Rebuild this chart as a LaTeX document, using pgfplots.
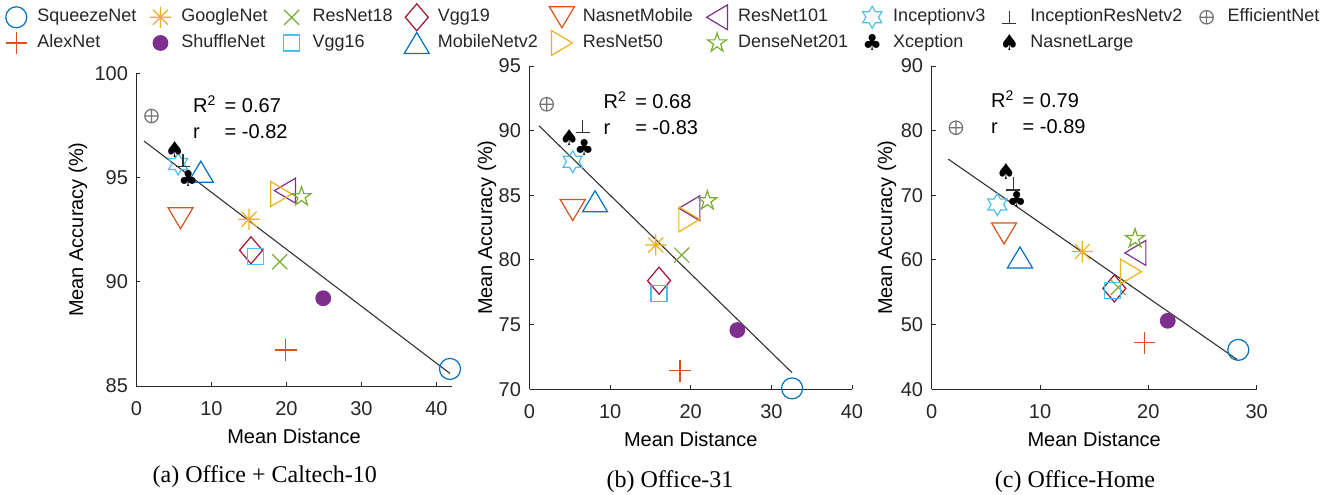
\documentclass[border=0pt]{standalone}
\usepackage{fontspec}
\setmainfont{Liberation Sans}
\newfontfamily\capfont{Liberation Serif}
\newfontfamily\symfont{DejaVu Sans}
\usepackage{pgfplots}
\pgfplotsset{compat=1.18}

\definecolor{mblue}{rgb}{0,0.447,0.741}
\definecolor{morange}{rgb}{0.85,0.325,0.098}
\definecolor{myellow}{rgb}{0.929,0.694,0.125}
\definecolor{mpurple}{rgb}{0.494,0.184,0.556}
\definecolor{mgreen}{rgb}{0.466,0.674,0.188}
\definecolor{mcyan}{rgb}{0.301,0.745,0.933}
\definecolor{mred}{rgb}{0.635,0.078,0.184}
\definecolor{axgray}{rgb}{0.15,0.15,0.15}
\definecolor{effgray}{rgb}{0.45,0.45,0.45}

% custom marks
\pgfdeclareplotmark{mast}{%
  \pgfpathmoveto{\pgfqpoint{-\pgfplotmarksize}{0pt}}\pgfpathlineto{\pgfqpoint{\pgfplotmarksize}{0pt}}%
  \pgfpathmoveto{\pgfqpoint{0pt}{-\pgfplotmarksize}}\pgfpathlineto{\pgfqpoint{0pt}{\pgfplotmarksize}}%
  \pgfpathmoveto{\pgfqpoint{-.707\pgfplotmarksize}{-.707\pgfplotmarksize}}\pgfpathlineto{\pgfqpoint{.707\pgfplotmarksize}{.707\pgfplotmarksize}}%
  \pgfpathmoveto{\pgfqpoint{-.707\pgfplotmarksize}{.707\pgfplotmarksize}}\pgfpathlineto{\pgfqpoint{.707\pgfplotmarksize}{-.707\pgfplotmarksize}}%
  \pgfusepathqstroke}
\pgfdeclareplotmark{mx}{%
  \pgfpathmoveto{\pgfqpoint{-\pgfplotmarksize}{-\pgfplotmarksize}}\pgfpathlineto{\pgfqpoint{\pgfplotmarksize}{\pgfplotmarksize}}%
  \pgfpathmoveto{\pgfqpoint{-\pgfplotmarksize}{\pgfplotmarksize}}\pgfpathlineto{\pgfqpoint{\pgfplotmarksize}{-\pgfplotmarksize}}%
  \pgfusepathqstroke}
\pgfdeclareplotmark{mdiam}{%
  \pgfpathmoveto{\pgfqpoint{0pt}{\pgfplotmarksize}}%
  \pgfpathlineto{\pgfqpoint{.85\pgfplotmarksize}{0pt}}%
  \pgfpathlineto{\pgfqpoint{0pt}{-\pgfplotmarksize}}%
  \pgfpathlineto{\pgfqpoint{-.85\pgfplotmarksize}{0pt}}%
  \pgfpathclose\pgfusepathqstroke}
\pgfdeclareplotmark{mtriup}{%
  \pgfpathmoveto{\pgfqpoint{0pt}{\pgfplotmarksize}}%
  \pgfpathlineto{\pgfqpoint{-1.19\pgfplotmarksize}{-\pgfplotmarksize}}%
  \pgfpathlineto{\pgfqpoint{1.19\pgfplotmarksize}{-\pgfplotmarksize}}%
  \pgfpathclose\pgfusepathqstroke}
\pgfdeclareplotmark{mtridown}{%
  \pgfpathmoveto{\pgfqpoint{0pt}{-\pgfplotmarksize}}%
  \pgfpathlineto{\pgfqpoint{-1.19\pgfplotmarksize}{\pgfplotmarksize}}%
  \pgfpathlineto{\pgfqpoint{1.19\pgfplotmarksize}{\pgfplotmarksize}}%
  \pgfpathclose\pgfusepathqstroke}
\pgfdeclareplotmark{mtriright}{%
  \pgfpathmoveto{\pgfqpoint{\pgfplotmarksize}{0pt}}%
  \pgfpathlineto{\pgfqpoint{-\pgfplotmarksize}{1.19\pgfplotmarksize}}%
  \pgfpathlineto{\pgfqpoint{-\pgfplotmarksize}{-1.19\pgfplotmarksize}}%
  \pgfpathclose\pgfusepathqstroke}
\pgfdeclareplotmark{mtrileft}{%
  \pgfpathmoveto{\pgfqpoint{-\pgfplotmarksize}{0pt}}%
  \pgfpathlineto{\pgfqpoint{\pgfplotmarksize}{1.19\pgfplotmarksize}}%
  \pgfpathlineto{\pgfqpoint{\pgfplotmarksize}{-1.19\pgfplotmarksize}}%
  \pgfpathclose\pgfusepathqstroke}
\pgfdeclareplotmark{mpenta}{%
  \pgfpathmoveto{\pgfqpointpolar{90}{\pgfplotmarksize}}%
  \pgfpathlineto{\pgfqpointpolar{126}{.382\pgfplotmarksize}}%
  \pgfpathlineto{\pgfqpointpolar{162}{\pgfplotmarksize}}%
  \pgfpathlineto{\pgfqpointpolar{198}{.382\pgfplotmarksize}}%
  \pgfpathlineto{\pgfqpointpolar{234}{\pgfplotmarksize}}%
  \pgfpathlineto{\pgfqpointpolar{270}{.382\pgfplotmarksize}}%
  \pgfpathlineto{\pgfqpointpolar{306}{\pgfplotmarksize}}%
  \pgfpathlineto{\pgfqpointpolar{342}{.382\pgfplotmarksize}}%
  \pgfpathlineto{\pgfqpointpolar{18}{\pgfplotmarksize}}%
  \pgfpathlineto{\pgfqpointpolar{54}{.382\pgfplotmarksize}}%
  \pgfpathclose\pgfusepathqstroke}
\pgfdeclareplotmark{mhexa}{%
  \pgfpathmoveto{\pgfqpointpolar{90}{\pgfplotmarksize}}%
  \pgfpathlineto{\pgfqpointpolar{120}{.577\pgfplotmarksize}}%
  \pgfpathlineto{\pgfqpointpolar{150}{\pgfplotmarksize}}%
  \pgfpathlineto{\pgfqpointpolar{180}{.577\pgfplotmarksize}}%
  \pgfpathlineto{\pgfqpointpolar{210}{\pgfplotmarksize}}%
  \pgfpathlineto{\pgfqpointpolar{240}{.577\pgfplotmarksize}}%
  \pgfpathlineto{\pgfqpointpolar{270}{\pgfplotmarksize}}%
  \pgfpathlineto{\pgfqpointpolar{300}{.577\pgfplotmarksize}}%
  \pgfpathlineto{\pgfqpointpolar{330}{\pgfplotmarksize}}%
  \pgfpathlineto{\pgfqpointpolar{0}{.577\pgfplotmarksize}}%
  \pgfpathlineto{\pgfqpointpolar{30}{\pgfplotmarksize}}%
  \pgfpathlineto{\pgfqpointpolar{60}{.577\pgfplotmarksize}}%
  \pgfpathclose\pgfusepathqstroke}
\pgfdeclareplotmark{mperp}{%
  \pgfpathmoveto{\pgfqpoint{-\pgfplotmarksize}{-.9\pgfplotmarksize}}\pgfpathlineto{\pgfqpoint{\pgfplotmarksize}{-.9\pgfplotmarksize}}%
  \pgfpathmoveto{\pgfqpoint{0pt}{-.9\pgfplotmarksize}}\pgfpathlineto{\pgfqpoint{0pt}{.9\pgfplotmarksize}}%
  \pgfusepathqstroke}
\pgfdeclareplotmark{mclub}{\pgftext{\symfont\fontsize{11}{11}\selectfont ♣}}
\pgfdeclareplotmark{mspade}{\pgftext{\symfont\fontsize{11}{11}\selectfont ♠}}

\pgfplotsset{
  sqz/.style={only marks, mark=o, mark size=5.25pt, color=mblue},
  alex/.style={only marks, mark=+, mark size=5.4pt, color=morange},
  goog/.style={only marks, mark=mast, mark size=5.35pt, color=myellow},
  shuf/.style={only marks, mark=*, mark size=3.65pt, color=mpurple},
  rnet18/.style={only marks, mark=mx, mark size=3.75pt, color=mgreen},
  vggsixteen/.style={only marks, mark=square, mark size=4pt, color=mcyan},
  vggnineteen/.style={only marks, mark=mdiam, mark size=6.75pt, color=mred},
  mob/.style={only marks, mark=mtriup, mark size=5.25pt, color=mblue},
  nasm/.style={only marks, mark=mtridown, mark size=5.25pt, color=morange},
  rnet50/.style={only marks, mark=mtriright, mark size=5.25pt, color=myellow},
  rnet101/.style={only marks, mark=mtrileft, mark size=5.25pt, color=mpurple},
  dense/.style={only marks, mark=mpenta, mark size=5pt, color=mgreen},
  incv/.style={only marks, mark=mhexa, mark size=5.5pt, color=mcyan},
  xcep/.style={only marks, mark=mclub, color=black},
  incres/.style={only marks, mark=mperp, mark size=3.5pt, color=black!80},
  nasl/.style={only marks, mark=mspade, color=black},
  eff/.style={only marks, mark=oplus, mark size=3.35pt, color=effgray},
  fitline/.style={black!80, line width=0.55pt, forget plot},
  myaxis/.style={
    scale only axis, anchor=south west, clip=false,
    axis x line*=bottom, axis y line*=left,
    axis line style={-, axgray, line width=0.5pt},
    tick style={axgray, line width=0.5pt},
    tick align=inside, major tick length=2pt,
    /pgf/number format/assume math mode=true,
    ticklabel style={font=\fontsize{10}{12}\selectfont, text=axgray},
    xticklabel style={anchor=center, yshift=-11.25pt},
    yticklabel style={anchor=east, inner sep=0pt, xshift=-4.1pt},
    label style={font=\fontsize{11}{13}\selectfont, text=axgray},
    every axis x label/.style={at={(axis description cs:0.5,0)}, anchor=center, yshift=-25pt},
    every axis plot/.append style={line width=0.6pt},
    xlabel={Mean Distance}, ylabel={Mean Accuracy (\%)},
  },
}

\begin{document}
\begin{tikzpicture}
\useasboundingbox (0pt,0pt) rectangle (670.5pt,-247pt);

% ---------------- (a) Office + Caltech-10
\begin{axis}[myaxis, at={(68.25pt,-193pt)}, width=157.5pt, height=156.35pt,
  xmin=0, xmax=42, ymin=85, ymax=100,
  xtick={0,10,20,30,40}, ytick={85,90,95,100},
  every axis y label/.style={at={(axis description cs:-0.1857,0.5)}, rotate=90, anchor=center},
  legend columns=9, legend cell align=left,
  legend image code/.code={%
    \path[draw=none, fill=none] (0pt,-1pt) rectangle (15.75pt,1pt);
    \draw[overlay, #1, only marks] plot coordinates {(5.25pt,0pt)};},
  legend style={draw=none, fill=none, inner sep=0pt, outer sep=0pt,
    at={(-0.4149,1.2202)}, anchor=north west,
    font=\fontsize{9}{10.8}\selectfont, text=axgray,
    nodes={inner xsep=0pt, inner ysep=2.17pt, text height=6.6pt, text depth=1.9pt},
    /tikz/every even column/.append style={column sep=6.8pt}},
]
\addplot[fitline] coordinates {(1.0,96.75) (41.8,85.6)};
\addplot[sqz] coordinates {(41.8,85.82)}; \addlegendentry{SqueezeNet}
\addplot[goog] coordinates {(15.0,93.0)}; \addlegendentry{GoogleNet}
\addplot[rnet18] coordinates {(19.1,90.96)}; \addlegendentry{ResNet18}
\addplot[vggnineteen] coordinates {(15.27,91.51)}; \addlegendentry{Vgg19}
\addplot[nasm] coordinates {(5.87,93.05)}; \addlegendentry{NasnetMobile}
\addplot[rnet101] coordinates {(19.8,94.37)}; \addlegendentry{ResNet101}
\addplot[incv] coordinates {(5.55,95.65)}; \addlegendentry{Inceptionv3}
\addplot[incres] coordinates {(6.2,95.84)}; \addlegendentry{InceptionResNetv2}
\addplot[eff] coordinates {(2.0,97.95)}; \addlegendentry{EfficientNet}
\addplot[alex] coordinates {(19.9,86.73)}; \addlegendentry{AlexNet}
\addplot[shuf] coordinates {(24.9,89.21)}; \addlegendentry{ShuffleNet}
\addplot[vggsixteen] coordinates {(15.9,91.22)}; \addlegendentry{Vgg16}
\addplot[mob] coordinates {(8.57,95.28)}; \addlegendentry{MobileNetv2}
\addplot[rnet50] coordinates {(19.3,94.21)}; \addlegendentry{ResNet50}
\addplot[dense] coordinates {(22.0,94.08)}; \addlegendentry{DenseNet201}
\addplot[xcep] coordinates {(6.9,94.96)}; \addlegendentry{Xception}
\addplot[nasl] coordinates {(5.1,96.35)}; \addlegendentry{NasnetLarge}
\node[anchor=base west, inner sep=0pt, font=\fontsize{10}{12}\selectfont] at (axis cs:7.5,98.11) {\makebox[15.8pt][l]{R\textsuperscript{2}}= 0.67};
\node[anchor=base west, inner sep=0pt, font=\fontsize{10}{12}\selectfont] at (axis cs:7.5,96.85) {\makebox[15.8pt][l]{r}= -0.82};
\end{axis}

% ---------------- (b) Office-31
\begin{axis}[myaxis, at={(264.75pt,-194.65pt)}, width=161.25pt, height=161.65pt,
  xmin=0, xmax=40, ymin=70, ymax=95,
  xtick={0,10,20,30,40}, ytick={70,75,80,85,90,95},
  every axis y label/.style={at={(axis description cs:-0.1318,0.5)}, rotate=90, anchor=center},
]
\addplot[fitline] coordinates {(1.18,90.38) (32.57,71.28)};
\addplot[sqz] coordinates {(32.57,70.07)};
\addplot[goog] coordinates {(15.66,81.16)};
\addplot[rnet18] coordinates {(18.88,80.38)};
\addplot[vggnineteen] coordinates {(16.07,78.4)};
\addplot[nasm] coordinates {(5.36,83.86)};
\addplot[rnet101] coordinates {(19.83,84.0)};
\addplot[incv] coordinates {(5.36,87.6)};
\addplot[incres] coordinates {(6.6,90.36)};
\addplot[eff] coordinates {(2.13,92.04)};
\addplot[alex] coordinates {(18.67,71.43)};
\addplot[shuf] coordinates {(25.78,74.58)};
\addplot[vggsixteen] coordinates {(16.07,77.42)};
\addplot[mob] coordinates {(8.13,84.54)};
\addplot[rnet50] coordinates {(19.83,83.14)};
\addplot[dense] coordinates {(22.06,84.58)};
\addplot[xcep] coordinates {(6.78,88.71)};
\addplot[nasl] coordinates {(4.94,89.49)};
\node[anchor=base west, inner sep=0pt, font=\fontsize{10}{12}\selectfont] at (axis cs:9.15,91.73) {\makebox[15.8pt][l]{R\textsuperscript{2}}= 0.68};
\node[anchor=base west, inner sep=0pt, font=\fontsize{10}{12}\selectfont] at (axis cs:9.15,89.74) {\makebox[15.8pt][l]{r}= -0.83};
\end{axis}

% ---------------- (c) Office-Home
\begin{axis}[myaxis, at={(465.85pt,-194.65pt)}, width=162.5pt, height=161.65pt,
  xmin=0, xmax=30, ymin=40, ymax=90,
  xtick={0,10,20,30}, ytick={40,50,60,70,80,90},
  every axis y label/.style={at={(axis description cs:-0.1375,0.5)}, rotate=90, anchor=center},
]
\addplot[fitline] coordinates {(1.53,75.6) (28.2,44.6)};
\addplot[sqz] coordinates {(28.3,46.1)};
\addplot[goog] coordinates {(13.9,61.3)};
\addplot[rnet18] coordinates {(17.23,55.75)};
\addplot[vggnineteen] coordinates {(16.86,55.6)};
\addplot[nasm] coordinates {(6.68,64.1)};
\addplot[rnet101] coordinates {(18.8,61.1)};
\addplot[incv] coordinates {(6.06,68.57)};
\addplot[incres] coordinates {(7.54,71.8)};
\addplot[eff] coordinates {(2.24,80.46)};
\addplot[alex] coordinates {(19.63,47.2)};
\addplot[shuf] coordinates {(21.79,50.6)};
\addplot[vggsixteen] coordinates {(16.68,55.34)};
\addplot[mob] coordinates {(8.15,60.4)};
\addplot[rnet50] coordinates {(18.4,58.2)};
\addplot[dense] coordinates {(18.77,63.3)};
\addplot[xcep] coordinates {(7.85,69.34)};
\addplot[nasl] coordinates {(6.86,73.7)};
\node[anchor=base west, inner sep=0pt, font=\fontsize{10}{12}\selectfont] at (axis cs:5.45,83.55) {\makebox[15.8pt][l]{R\textsuperscript{2}}= 0.79};
\node[anchor=base west, inner sep=0pt, font=\fontsize{10}{12}\selectfont] at (axis cs:5.45,79.49) {\makebox[15.8pt][l]{r}= -0.89};
\end{axis}

% captions
\node[font=\capfont\fontsize{12}{14}\selectfont] at (132.4pt,-238.5pt) {(a) Office + Caltech-10};
\node[font=\capfont\fontsize{12}{14}\selectfont] at (335pt,-240.85pt) {(b) Office-31};
\node[font=\capfont\fontsize{12}{14}\selectfont] at (537.5pt,-240.85pt) {(c) Office-Home};
\end{tikzpicture}
\end{document}
